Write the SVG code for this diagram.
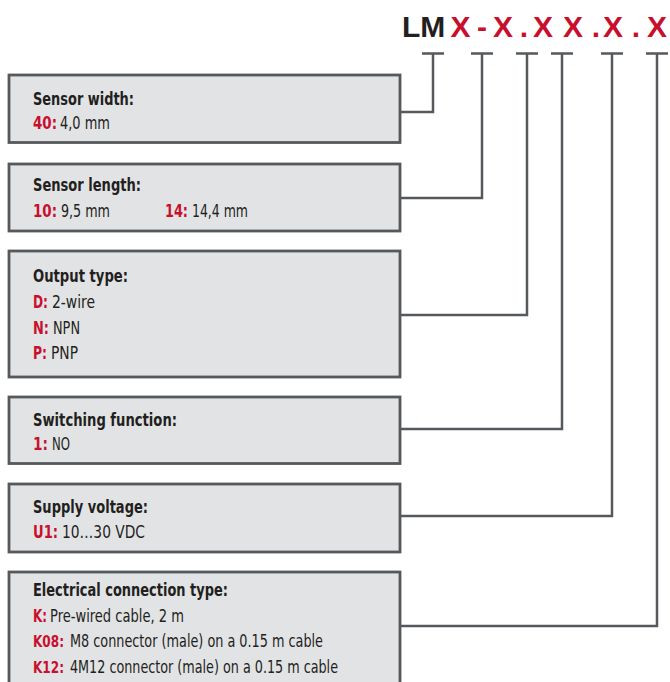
<svg xmlns="http://www.w3.org/2000/svg" width="670" height="682" viewBox="0 0 670 682">
<style>
.box{fill:#e2e3e5;stroke:#56595c;stroke-width:2.8}
.con{fill:none;stroke:#56595c;stroke-width:2.5}
text{font-family:"Liberation Sans Narrow","DejaVu Sans Condensed","Liberation Sans",Arial,sans-serif;fill:#231f20}
.t{font-size:18px;font-weight:bold}
.v{font-size:17.5px}
.r{font-size:17.5px;fill:#c8102e;font-weight:bold}
.hd{font-family:"Liberation Sans",Arial,sans-serif;font-size:30px;font-weight:bold}
.hx{fill:#c8102e}
</style>
<rect width="670" height="682" fill="#ffffff"/>
<g id="code">
<text class="hd" x="402" y="37">LM</text>
<text class="hd hx" text-anchor="middle" x="460.5" y="37">X</text>
<text class="hd hx" text-anchor="middle" x="482" y="37">-</text>
<text class="hd hx" text-anchor="middle" x="503" y="37">X</text>
<text class="hd hx" text-anchor="middle" x="524" y="37">.</text>
<text class="hd hx" text-anchor="middle" x="543" y="37">X</text>
<text class="hd hx" text-anchor="middle" x="573" y="37">X</text>
<text class="hd hx" text-anchor="middle" x="596" y="37">.</text>
<text class="hd hx" text-anchor="middle" x="613" y="37">X</text>
<text class="hd hx" text-anchor="middle" x="636" y="37">.</text>
<text class="hd hx" text-anchor="middle" x="657" y="37">X</text>
</g>
<g id="connectors">
<path class="con" d="M422 53.5H444M433 53.5V112H400"/>
<path class="con" d="M471 53.5H493M482 53.5V198H400"/>
<path class="con" d="M516 53.5H538M527 53.5V315H400"/>
<path class="con" d="M551 53.5H573M562 53.5V429H400"/>
<path class="con" d="M601 53.5H623M612 53.5V516H400"/>
<path class="con" d="M646 53.5H668M657 53.5V626H400"/>
</g>
<g id="sensor-width">
<rect class="box" x="9" y="75" width="391" height="67.5"/>
<text class="t" x="33" y="105" textLength="101" lengthAdjust="spacingAndGlyphs">Sensor width:</text>
<text class="r" x="33" y="129" textLength="24" lengthAdjust="spacingAndGlyphs">40:</text>
<text class="v" x="60" y="129" textLength="50" lengthAdjust="spacingAndGlyphs">4,0 mm</text>
</g>
<g id="sensor-length">
<rect class="box" x="9" y="164" width="391" height="67"/>
<text class="t" x="33" y="191" textLength="108" lengthAdjust="spacingAndGlyphs">Sensor length:</text>
<text class="r" x="33" y="217" textLength="24" lengthAdjust="spacingAndGlyphs">10:</text>
<text class="v" x="61" y="217" textLength="49" lengthAdjust="spacingAndGlyphs">9,5 mm</text>
<text class="r" x="165" y="217" textLength="23" lengthAdjust="spacingAndGlyphs">14:</text>
<text class="v" x="192" y="217" textLength="56" lengthAdjust="spacingAndGlyphs">14,4 mm</text>
</g>
<g id="output-type">
<rect class="box" x="9" y="251" width="391" height="126"/>
<text class="t" x="33" y="282" textLength="95" lengthAdjust="spacingAndGlyphs">Output type:</text>
<text class="r" x="33" y="308" textLength="15" lengthAdjust="spacingAndGlyphs">D:</text>
<text class="v" x="52" y="308" textLength="43" lengthAdjust="spacingAndGlyphs">2-wire</text>
<text class="r" x="33" y="334" textLength="16" lengthAdjust="spacingAndGlyphs">N:</text>
<text class="v" x="53" y="334" textLength="27" lengthAdjust="spacingAndGlyphs">NPN</text>
<text class="r" x="33" y="359" textLength="14" lengthAdjust="spacingAndGlyphs">P:</text>
<text class="v" x="51" y="359" textLength="27" lengthAdjust="spacingAndGlyphs">PNP</text>
</g>
<g id="switching-function">
<rect class="box" x="9" y="397" width="391" height="66.5"/>
<text class="t" x="33" y="426" textLength="144" lengthAdjust="spacingAndGlyphs">Switching function:</text>
<text class="r" x="33" y="450" textLength="15" lengthAdjust="spacingAndGlyphs">1:</text>
<text class="v" x="52" y="450" textLength="18" lengthAdjust="spacingAndGlyphs">NO</text>
</g>
<g id="supply-voltage">
<rect class="box" x="9" y="484" width="391" height="68"/>
<text class="t" x="33" y="513" textLength="115" lengthAdjust="spacingAndGlyphs">Supply voltage:</text>
<text class="r" x="33" y="538" textLength="25" lengthAdjust="spacingAndGlyphs">U1:</text>
<text class="v" x="62" y="538" textLength="83" lengthAdjust="spacingAndGlyphs">10…30 VDC</text>
</g>
<g id="electrical-connection">
<rect class="box" x="9" y="572" width="391" height="130"/>
<text class="t" x="33" y="596" textLength="195" lengthAdjust="spacingAndGlyphs">Electrical connection type:</text>
<text class="r" x="33" y="622" textLength="14" lengthAdjust="spacingAndGlyphs">K:</text>
<text class="v" x="50" y="622" textLength="134" lengthAdjust="spacingAndGlyphs">Pre-wired cable, 2 m</text>
<text class="r" x="33" y="647" textLength="31" lengthAdjust="spacingAndGlyphs" style="font-size:16px">K08:</text>
<text class="v" x="70" y="647" textLength="253" lengthAdjust="spacingAndGlyphs">M8 connector (male) on a 0.15 m cable</text>
<text class="r" x="33" y="673" textLength="31" lengthAdjust="spacingAndGlyphs" style="font-size:16px">K12:</text>
<text class="v" x="70" y="673" textLength="268" lengthAdjust="spacingAndGlyphs">4M12 connector (male) on a 0.15 m cable</text>
</g>
</svg>
